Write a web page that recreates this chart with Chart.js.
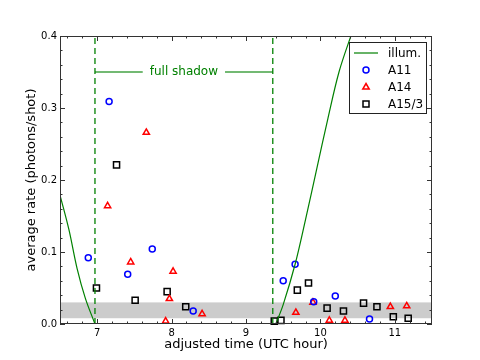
<!DOCTYPE html>
<html>
<head>
<meta charset="utf-8">
<script src="https://cdn.jsdelivr.net/npm/chart.js@4/dist/chart.umd.min.js"></script>
<style>
  html, body { margin: 0; padding: 0; background: #fff; }
  #wrap { width: 480px; height: 360px; }
</style>
</head>
<body>
<div id="wrap"><canvas id="rateChart"></canvas></div>
<script>
// Data
const a11Hours = [6.88, 7.16, 7.41, 7.74, 8.29, 9.50, 9.66, 9.91, 10.20, 10.66];
const a11Rates = [0.092, 0.309, 0.069, 0.104, 0.018, 0.060, 0.083, 0.031, 0.039, 0.007];

const a14Hours = [7.14, 7.45, 7.66, 7.92, 7.97, 8.02, 8.41, 9.67, 9.90, 10.12, 10.33, 10.94, 11.16];
const a14Rates = [0.164, 0.086, 0.266, 0.004, 0.035, 0.073, 0.014, 0.016, 0.030, 0.005, 0.005, 0.024, 0.025];

const a15Hours = [6.99, 7.26, 7.51, 7.94, 8.19, 9.38, 9.47, 9.69, 9.84, 10.09, 10.31, 10.58, 10.76, 10.98, 11.18];
const a15Rates = [0.050, 0.221, 0.033, 0.045, 0.024, 0.004, 0.005, 0.047, 0.057, 0.022, 0.018, 0.029, 0.024, 0.010, 0.008];

// illumination curve (null = no line during full shadow)
const illumHours = [6.5, 6.62, 6.73, 6.84, 6.97, 8.2, 9.40, 9.5, 9.66, 9.8, 9.95, 10.1, 10.25, 10.41, 10.55];
const illumRates = [0.179, 0.131, 0.077, 0.036, 0, null, 0, 0.027, 0.083, 0.145, 0.215, 0.285, 0.35, 0.40, 0.44];

const shadowStart = 6.97;
const shadowEnd = 9.36;
const shadowLabelY = 0.35;
const bandLow = 0.008;
const bandHigh = 0.03;

const xTicks = [7, 8, 9, 10, 11];
const yTicks = [0.0, 0.1, 0.2, 0.3, 0.4];

const FONT = '"DejaVu Sans", Verdana, sans-serif';

function toPoints(xs, ys) {
    return xs.map((x, i) => ({ x: x, y: ys[i] }));
}

// gray band behind the data
const bandPlugin = {
    id: 'band',
    beforeDatasetsDraw(chart) {
        const { ctx, chartArea, scales } = chart;
        const yTop = scales.y.getPixelForValue(bandHigh);
        const yBot = scales.y.getPixelForValue(bandLow);
        ctx.save();
        ctx.fillStyle = '#cccccc';
        ctx.fillRect(chartArea.left, yTop, chartArea.right - chartArea.left, yBot - yTop);
        ctx.restore();
    }
};

// frame, inward ticks, "full shadow" label and legend box
const framePlugin = {
    id: 'frame',
    afterDraw(chart) {
        const { ctx, chartArea: a, scales } = chart;
        const xs = scales.x, ys = scales.y;
        ctx.save();
        ctx.strokeStyle = '#333';
        ctx.lineWidth = 1;

        // x ticks every 0.2, major every 1
        for (let i = 33; i <= 57; i++) {
            const v = i / 5;
            const px = Math.round(xs.getPixelForValue(v)) + 0.5;
            const len = (i % 5 === 0) ? 5 : 2.5;
            ctx.beginPath();
            ctx.moveTo(px, a.bottom); ctx.lineTo(px, a.bottom - len);
            ctx.moveTo(px, a.top); ctx.lineTo(px, a.top + len);
            ctx.stroke();
        }
        // y ticks every 0.02, major every 0.1
        for (let i = 0; i <= 20; i++) {
            const v = i / 50;
            const py = Math.round(ys.getPixelForValue(v)) + 0.5;
            const len = (i % 5 === 0) ? 5 : 2.5;
            ctx.beginPath();
            ctx.moveTo(a.left, py); ctx.lineTo(a.left + len, py);
            ctx.moveTo(a.right, py); ctx.lineTo(a.right - len, py);
            ctx.stroke();
        }
        ctx.strokeRect(Math.round(a.left) + 0.5, Math.round(a.top) + 0.5,
            Math.round(a.right - a.left) - 1, Math.round(a.bottom - a.top) - 1);

        // full shadow bar
        const x0 = xs.getPixelForValue(shadowStart);
        const x1 = xs.getPixelForValue(shadowEnd);
        const yb = ys.getPixelForValue(shadowLabelY);
        const mid = (x0 + x1) / 2;
        ctx.font = '12px ' + FONT;
        const label = 'full shadow';
        const half = ctx.measureText(label).width / 2 + 7;
        ctx.strokeStyle = 'rgba(0,128,0,0.55)';
        ctx.lineWidth = 2;
        ctx.beginPath();
        ctx.moveTo(x0, yb); ctx.lineTo(mid - half, yb);
        ctx.moveTo(mid + half, yb); ctx.lineTo(x1, yb);
        ctx.stroke();
        ctx.fillStyle = '#008000';
        ctx.textAlign = 'center';
        ctx.textBaseline = 'middle';
        ctx.fillText(label, mid, yb);

        // legend box
        const boxW = 77, boxH = 71;
        const bx = Math.round(a.right) - 6 - boxW;
        const by = Math.round(a.top) + 6;
        ctx.fillStyle = '#fff';
        ctx.fillRect(bx, by, boxW, boxH);
        ctx.strokeStyle = '#222';
        ctx.lineWidth = 1;
        ctx.strokeRect(bx + 0.5, by + 0.5, boxW, boxH);

        const items = chart.data.datasets.filter(d => d.legendLabel);
        items.forEach((d, i) => {
            const cy = by + 11 + i * 17;
            const cx = bx + 17;
            ctx.strokeStyle = d.borderColor;
            if (d.showLine) {
                ctx.lineWidth = 1.2;
                ctx.beginPath();
                ctx.moveTo(bx + 5, cy); ctx.lineTo(bx + 29, cy);
                ctx.stroke();
            } else {
                ctx.lineWidth = 1.5;
                ctx.beginPath();
                if (d.pointStyle === 'circle') {
                    ctx.arc(cx, cy, 3, 0, Math.PI * 2);
                } else if (d.pointStyle === 'triangle') {
                    ctx.moveTo(cx, cy - 3.5);
                    ctx.lineTo(cx + 3.2, cy + 2);
                    ctx.lineTo(cx - 3.2, cy + 2);
                    ctx.closePath();
                } else {
                    ctx.rect(cx - 3, cy - 3, 6, 6);
                }
                ctx.stroke();
            }
            ctx.fillStyle = '#000';
            ctx.textAlign = 'left';
            ctx.font = '12px ' + FONT;
            ctx.fillText(d.legendLabel, bx + 39, cy + 1);
        });
        ctx.restore();
    }
};

const markerCommon = {
    backgroundColor: 'rgba(0,0,0,0)',
    pointBorderWidth: 1.5,
    showLine: false,
    clip: false
};

const ctx = document.getElementById('rateChart').getContext('2d');
new Chart(ctx, {
    type: 'scatter',
    data: {
        datasets: [
            {
                legendLabel: 'illum.',
                data: toPoints(illumHours, illumRates),
                showLine: true,
                borderColor: '#008000',
                borderWidth: 1.2,
                pointRadius: 0,
                spanGaps: false,
                tension: 0.35
            },
            {
                data: [{ x: shadowStart, y: yTicks[0] }, { x: shadowStart, y: yTicks[yTicks.length - 1] }],
                showLine: true,
                borderColor: '#008000',
                borderWidth: 1.3,
                borderDash: [6, 4],
                pointRadius: 0
            },
            {
                data: [{ x: shadowEnd, y: yTicks[0] }, { x: shadowEnd, y: yTicks[yTicks.length - 1] }],
                showLine: true,
                borderColor: '#008000',
                borderWidth: 1.3,
                borderDash: [6, 4],
                pointRadius: 0
            },
            Object.assign({
                legendLabel: 'A11',
                data: toPoints(a11Hours, a11Rates),
                borderColor: '#0000ff',
                pointStyle: 'circle',
                pointRadius: 3
            }, markerCommon),
            Object.assign({
                legendLabel: 'A14',
                data: toPoints(a14Hours, a14Rates),
                borderColor: '#ff0000',
                pointStyle: 'triangle',
                pointRadius: 3.6
            }, markerCommon),
            Object.assign({
                legendLabel: 'A15/3',
                data: toPoints(a15Hours, a15Rates),
                borderColor: '#000000',
                pointStyle: 'rect',
                pointRadius: 4.3
            }, markerCommon)
        ]
    },
    options: {
        responsive: true,
        maintainAspectRatio: false,
        animation: false,
        layout: { padding: { left: 24, top: 36, right: 48, bottom: 8 } },
        plugins: {
            legend: { display: false },
            tooltip: { enabled: false }
        },
        scales: {
            x: {
                type: 'linear',
                min: 6.5,
                max: 11.5,
                grid: { display: false, drawTicks: false },
                border: { display: false },
                afterBuildTicks: s => { s.ticks = xTicks.map(v => ({ value: v })); },
                afterFit: s => { s.height = 28; },
                ticks: {
                    padding: 3,
                    color: '#000',
                    font: { family: FONT, size: 10 },
                    callback: v => String(v)
                },
                title: {
                    display: true,
                    text: 'adjusted time (UTC hour)',
                    color: '#000',
                    padding: 0,
                    font: { family: FONT, size: 13 }
                }
            },
            y: {
                type: 'linear',
                min: 0,
                max: 0.4,
                grid: { display: false, drawTicks: false },
                border: { display: false },
                afterBuildTicks: s => { s.ticks = yTicks.map(v => ({ value: v })); },
                afterFit: s => { s.width = 36; },
                ticks: {
                    padding: 3,
                    color: '#000',
                    font: { family: FONT, size: 10 },
                    callback: v => Number(v).toFixed(1)
                },
                title: {
                    display: true,
                    text: 'average rate (photons/shot)',
                    color: '#000',
                    padding: 0,
                    font: { family: FONT, size: 13 }
                }
            }
        }
    },
    plugins: [bandPlugin, framePlugin]
});
</script>
</body>
</html>
